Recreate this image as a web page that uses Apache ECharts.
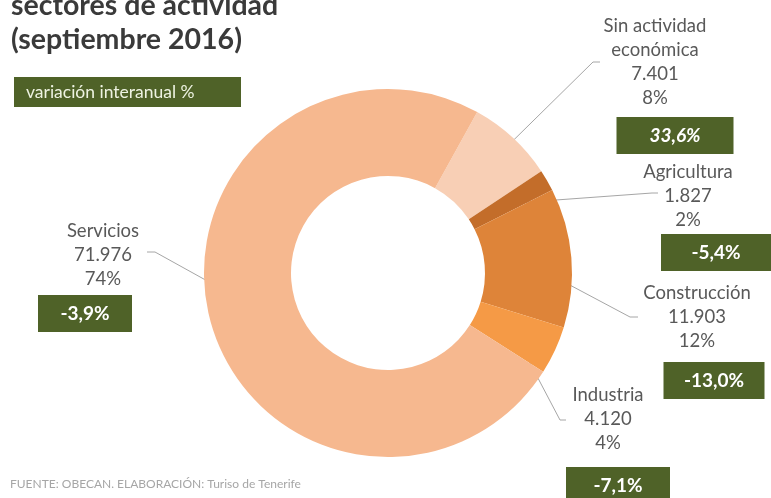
<!DOCTYPE html>
<html>
<head>
<meta charset="utf-8">
<script src="https://cdn.jsdelivr.net/npm/echarts@6/dist/echarts.min.js"></script>
<style>html,body{margin:0;padding:0;background:#fff;}#c{width:771px;height:498px;}</style>
</head>
<body>
<div id="c"></div>
<script>
// ---- data ----
const categories = ['Sin actividad económica', 'Agricultura', 'Construcción', 'Industria', 'Servicios'];
const values = [7401, 1827, 11903, 4120, 71976];
const variation = ['33,6%', '-5,4%', '-13,0%', '-7,1%', '-3,9%'];
const sliceColors = ['#F8CFB5', '#C36D2A', '#DE8439', '#F59A46', '#F6B88F'];

// ---- layout (positions/styles) ----
const FONT = 'Lato, "Noto Sans", sans-serif';
const CX = 388, CY = 273, R_IN = 97, R_OUT = 184, START_CW = 29;
// label anchor (text center x, top y), gap before box, box horizontal offset, box width, elbow & end points of leader
const labelCfg = [
  {x: 655, y: 14,  gap: 7,  off: 20,  w: 117, elbow: [593, 62],  end: [600, 62]},
  {x: 688, y: 160, gap: 2,  off: 28,  w: 110, elbow: [652, 193], end: [658, 193]},
  {x: 697, y: 281, gap: 9,  off: 17,  w: 101, elbow: [630, 317], end: [638, 317]},
  {x: 608, y: 383, gap: 12, off: 10,  w: 104, elbow: [560, 420], end: [566, 420]},
  {x: 103, y: 219, gap: 4,  off: -18, w: 94,  elbow: [155, 252], end: [147, 252]}
];

const total = values.reduce((a, b) => a + b, 0);
function fmtNum(v) { return String(v).replace(/\B(?=(\d{3})+(?!\d))/g, '.'); }

const rich = {t: {fontFamily: FONT, fontSize: 18.5, color: '#595959', lineHeight: 24, align: 'center'}};
labelCfg.forEach((c, i) => {
  rich['s' + i] = {width: Math.abs(c.off) * 2, align: 'center', fontSize: 10, lineHeight: 37 + 2 * c.gap};
  rich['b' + i] = {
    width: c.w, height: 37, lineHeight: 37 + 2 * c.gap, align: 'center',
    backgroundColor: '#4F6228', color: '#FFFFFF', fontFamily: FONT, fontSize: 19, fontWeight: 'bold',
    fontStyle: i === 0 ? 'italic' : 'normal'
  };
});

const seriesData = categories.map((name, i) => ({name, value: values[i], itemStyle: {color: sliceColors[i]}}));

function midPoint(i, r) {
  let cum = 0;
  for (let k = 0; k < i; k++) cum += values[k];
  const a = (START_CW + (cum + values[i] / 2) / total * 360) * Math.PI / 180;
  return [CX + r * Math.sin(a), CY - r * Math.cos(a)];
}

const chart = echarts.init(document.getElementById('c'));
chart.setOption({
  animation: false,
  backgroundColor: '#ffffff',
  graphic: [
    {type: 'text', left: 11, top: -11, style: {text: 'sectores de actividad\n(septiembre 2016)', font: 'bold 28.5px ' + FONT, fill: '#3A3A3A', lineHeight: 34}},
    {type: 'rect', shape: {x: 14, y: 77, width: 227, height: 30}, style: {fill: '#4F6228'}},
    {type: 'text', x: 26, y: 92, style: {text: 'variación interanual %', font: '17.5px ' + FONT, fill: '#EEF3E2', verticalAlign: 'middle'}},
    {type: 'text', x: 10, y: 484, style: {text: 'FUENTE: OBECAN. ELABORACIÓN: Turiso de Tenerife', font: '12px ' + FONT, fill: '#A6A6A6', verticalAlign: 'middle'}}
  ],
  series: [{
    type: 'pie',
    center: [CX, CY],
    radius: [R_IN, R_OUT],
    startAngle: 90 - START_CW,
    clockwise: true,
    avoidLabelOverlap: false,
    silent: true,
    data: seriesData,
    label: {
      show: true,
      position: 'outside',
      rich: rich,
      formatter: function (p) {
        const i = p.dataIndex;
        const c = labelCfg[i];
        const name = p.name.replace('Sin actividad ', 'Sin actividad\n');
        const lines = name.split('\n').map(s => '{t|' + s + '}');
        lines.push('{t|' + fmtNum(values[i]) + '}');
        lines.push('{t|' + Math.round(values[i] / total * 100) + '%}');
        const box = '{b' + i + '|' + variation[i] + '}';
        const sp = '{s' + i + '| }';
        lines.push(c.off >= 0 ? sp + box : box + sp);
        return lines.join('\n');
      }
    },
    labelLine: {show: true, lineStyle: {color: '#A6A6A6', width: 1}},
    labelLayout: function (params) {
      const i = params.dataIndex;
      const c = labelCfg[i];
      return {
        x: c.x, y: c.y, align: 'center', verticalAlign: 'top',
        labelLinePoints: [midPoint(i, 138), c.elbow, c.end]
      };
    }
  }]
});
</script>
</body>
</html>
